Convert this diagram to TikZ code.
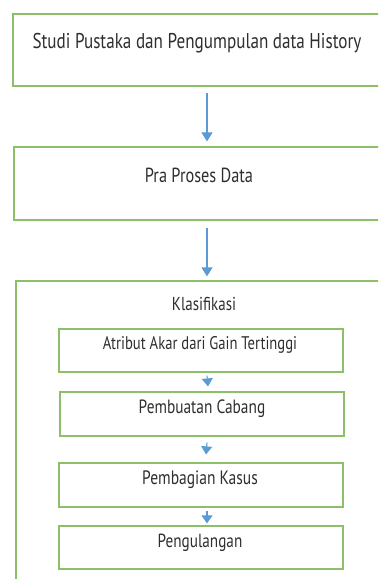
\documentclass[tikz,border=0pt]{standalone}
\usepackage{fontspec}
\setmainfont{PT Sans}[FakeStretch=0.8]
\usetikzlibrary{arrows.meta}
\definecolor{boxgreen}{HTML}{8CC068}
\definecolor{arrowblue}{HTML}{5B9BD5}
\definecolor{txtgray}{HTML}{2E2E2E}
\tikzset{
  gbox/.style={draw=boxgreen,line width=1.2pt,rectangle,inner sep=0pt},
  lbl/.style={text=txtgray,inner sep=0pt,anchor=center},
  bigarrow/.style={draw=arrowblue,line width=1.1pt,-{Triangle[width=11pt,length=9pt]}},
  smallarrow/.style={draw=arrowblue,line width=1.1pt,-{Triangle[width=11pt,length=8pt]}},
}
\begin{document}
\begin{tikzpicture}[x=1pt,y=-1pt]
\useasboundingbox (0,0) rectangle (378,579);
\clip (0,0) rectangle (378,579);
% main boxes
\node[gbox,minimum width=388pt,minimum height=72pt] (b1) at (207,50) {};
\node[lbl,font=\fontsize{21.4}{25}\selectfont] (t1) at (197,43) {Studi Pustaka dan Pengumpulan data History};
\node[gbox,minimum width=386pt,minimum height=73pt] (b2) at (207,183.5) {};
\node[lbl,font=\fontsize{20.4}{24}\selectfont] (t2) at (199,175) {Pra Proses Data};
\node[gbox,minimum width=382pt,minimum height=340pt] (b3) at (207,451) {};
\node[lbl,font=\fontsize{18.7}{22}\selectfont] (t3) at (204,304) {Klasifikasi};
% inner boxes
\node[gbox,minimum width=284pt,minimum height=43pt] (ia) at (201,350.5) {};
\node[lbl,font=\fontsize{18.3}{22}\selectfont] at (200,345) {Atribut Akar dari Gain Tertinggi};
\node[gbox,minimum width=284pt,minimum height=44pt] (ib) at (202,414) {};
\node[lbl,font=\fontsize{19.2}{23}\selectfont] at (202,409) {Pembuatan Cabang};
\node[gbox,minimum width=284pt,minimum height=44pt] (ic) at (201,485) {};
\node[lbl,font=\fontsize{19.4}{23}\selectfont] at (200,480) {Pembagian Kasus};
\node[gbox,minimum width=284pt,minimum height=43pt] (id) at (201,547.5) {};
\node[lbl,font=\fontsize{19}{23}\selectfont] at (200,543) {Pengulangan};
% arrows
\draw[bigarrow] ([yshift=-6pt]b1.south) -- ([yshift=5pt]b2.north);
\draw[bigarrow] ([yshift=-7pt]b2.south) -- ([yshift=4pt]b3.north);
\draw[smallarrow] ([xshift=6pt,yshift=-3pt]ia.south) -- ([xshift=6pt,yshift=5pt]ib.north);
\draw[smallarrow] ([xshift=5pt,yshift=-6pt]ib.south) -- ([xshift=5pt,yshift=8pt]ic.north);
\draw[smallarrow] ([xshift=6pt,yshift=-3pt]ic.south) -- ([xshift=6pt,yshift=2pt]id.north);
\end{tikzpicture}
\end{document}
